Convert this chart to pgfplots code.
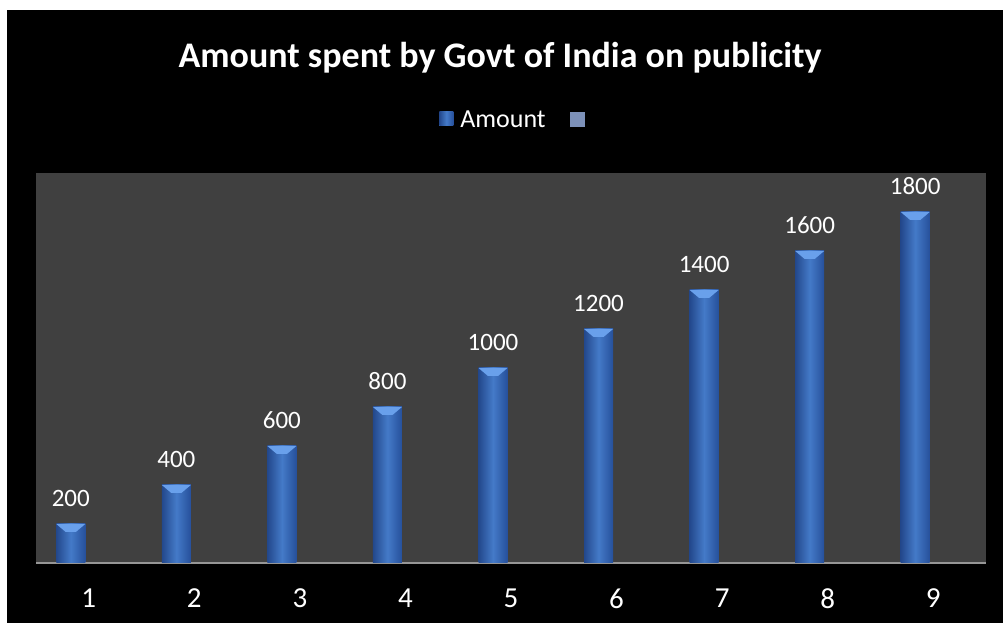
\documentclass[border=0pt]{standalone}
\usepackage{pgfplots}
\pgfplotsset{compat=1.18}
\usepackage{fontspec}
\setmainfont{Carlito}
\definecolor{plotbg}{RGB}{64,64,64}
\definecolor{barL}{RGB}{35,72,140}
\definecolor{barM}{RGB}{68,122,200}
\definecolor{barR}{RGB}{38,80,155}
\definecolor{bevel}{RGB}{105,160,235}
\definecolor{leg2}{RGB}{125,145,185}
\definecolor{axgray}{RGB}{150,150,150}
\pgfdeclareplotmark{bevel}{%
  \pgfpathmoveto{\pgfpoint{-14.5pt}{0pt}}%
  \pgfpathlineto{\pgfpoint{14.5pt}{0pt}}%
  \pgfpathlineto{\pgfpoint{5pt}{-8pt}}%
  \pgfpathlineto{\pgfpoint{-5pt}{-8pt}}%
  \pgfpathclose\pgfusepathqfill}
\pgfplotsset{mybar/.style={ybar, bar width=29pt, bar shift=-18pt, draw=none, left color=barL, right color=barR, middle color=barM,
  nodes near coords, point meta=y,
  every node near coord/.append style={text=white, font=\fontsize{25}{30}\selectfont, anchor=south, inner sep=0pt, xshift=-18pt, yshift=17pt,
    /pgf/number format/.cd, 1000 sep={}}}}
\begin{document}
\begin{tikzpicture}[x=1pt,y=1pt]
\path[use as bounding box, fill=white] (0,0) rectangle (1003,623);
\fill[black] (7,0) rectangle (1003,613);
\node[anchor=base, text=white, font=\fontsize{36}{42}\selectfont\bfseries] at (500,555) {Amount spent by Govt of India on publicity};
\begin{axis}[
  at={(36pt,60pt)}, anchor=south west,
  width=950pt, height=390pt, scale only axis,
  xmin=0.5, xmax=9.5, ymin=0, ymax=2000,
  axis background/.style={fill=plotbg},
  axis x line=bottom, axis y line=none,
  axis line style={-, draw=axgray, line width=1.5pt},
  xtick={1,...,9}, major tick length=0pt,
  /pgf/number format/assume math mode=true,
  xticklabel style={text=white, font=\fontsize{29}{34}\selectfont, yshift=-22pt},
  legend columns=2,
  legend style={draw=none, fill=none, text=white, font=\fontsize{26}{30}\selectfont,
    at={(0.505,1.136)}, anchor=center,
    /tikz/every odd column/.append style={column sep=7pt},
    /tikz/every even column/.append style={column sep=24pt},
    nodes={inner sep=0pt}},
  legend image code/.code={\fill[#1] (0pt,-6pt) rectangle (14pt,8pt);},
  clip=false,
]
\addplot[mybar, legend image code/.code={\fill[barM] (0pt,-6pt) rectangle (14pt,8pt);}] coordinates {(1,200)};
\addlegendentry{Amount}
\addplot[mybar, forget plot] coordinates {(2,400)};
\addplot[mybar, forget plot] coordinates {(3,600)};
\addplot[mybar, forget plot] coordinates {(4,800)};
\addplot[mybar, forget plot] coordinates {(5,1000)};
\addplot[mybar, forget plot] coordinates {(6,1200)};
\addplot[mybar, forget plot] coordinates {(7,1400)};
\addplot[mybar, forget plot] coordinates {(8,1600)};
\addplot[mybar, forget plot] coordinates {(9,1800)};
\addplot[only marks, mark=bevel, color=bevel, forget plot, xshift=-18pt]
coordinates {(1,200) (2,400) (3,600) (4,800) (5,1000) (6,1200) (7,1400) (8,1600) (9,1800)};
\addlegendimage{legend image code/.code={\fill[leg2] (0pt,-6pt) rectangle (14pt,8pt);}}
\addlegendentry{}
\end{axis}
\end{tikzpicture}
\end{document}
